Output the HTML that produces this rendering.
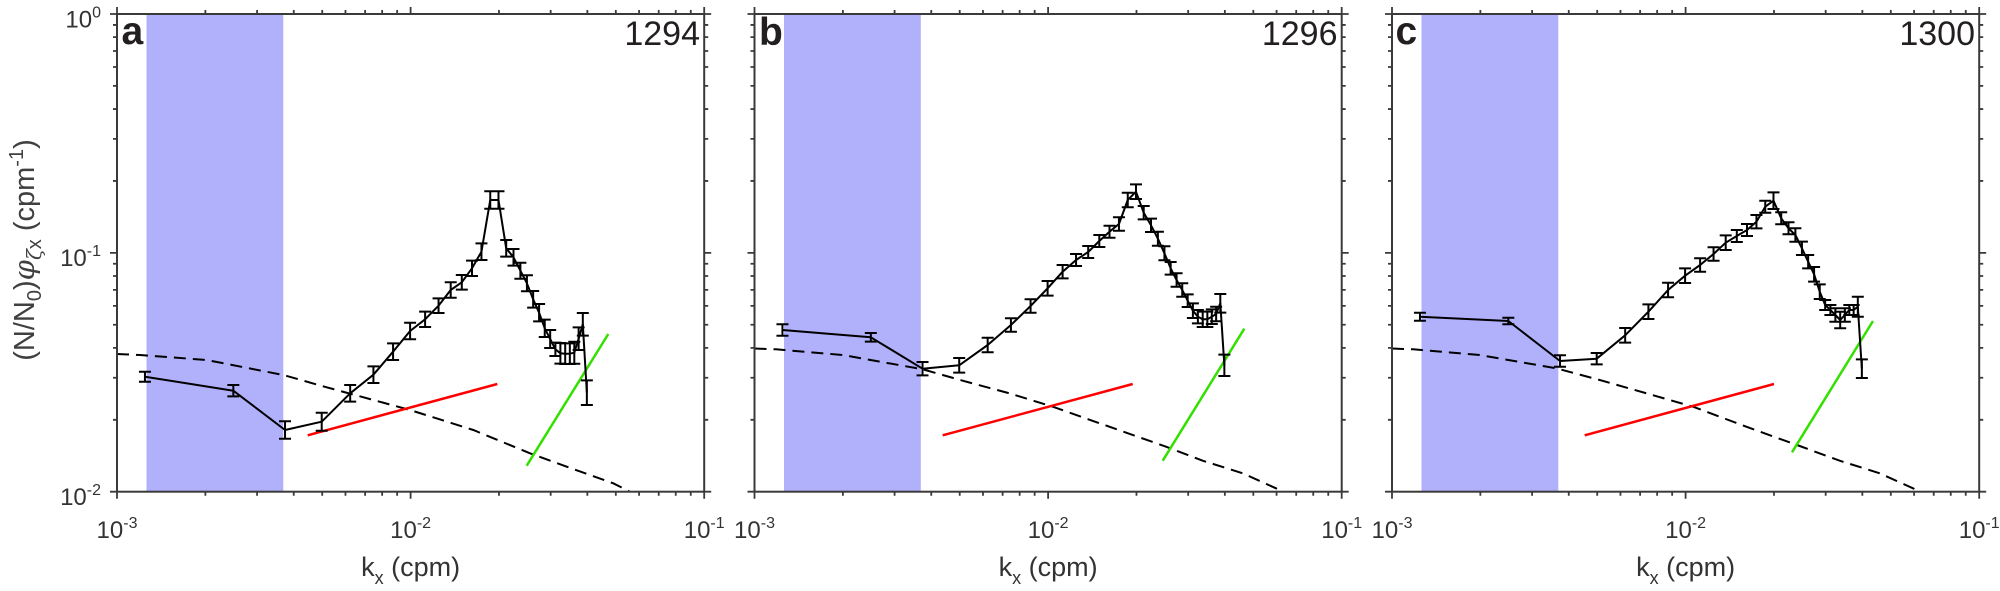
<!DOCTYPE html>
<html><head><meta charset="utf-8"><style>
html,body{margin:0;padding:0;background:#fff;}
svg{display:block;}
text{font-family:"Liberation Sans",Arial,sans-serif;}
</style></head><body>
<svg width="2000" height="591" viewBox="0 0 2000 591" xmlns="http://www.w3.org/2000/svg">
<defs>
<clipPath id="pc" clipPathUnits="userSpaceOnUse"><rect x="0" y="14" width="587.2" height="477.7"/></clipPath>
<g id="axes">
<rect x="0" y="14" width="587.2" height="477.7" fill="none" stroke="#3a3a3a" stroke-width="2"/>
<path fill="none" stroke="#3a3a3a" stroke-width="1.8" d="M88.38 491.7v4M140.08 491.7v4M176.76 491.7v4M205.22 491.7v4M228.47 491.7v4M248.12 491.7v4M265.15 491.7v4M280.16 491.7v4M381.98 491.7v4M433.68 491.7v4M470.36 491.7v4M498.82 491.7v4M522.07 491.7v4M541.72 491.7v4M558.75 491.7v4M573.76 491.7v4M0 491.7v7M293.6 491.7v7M587.2 491.7v7
M88.38 14v-4M140.08 14v-4M176.76 14v-4M205.22 14v-4M228.47 14v-4M248.12 14v-4M265.15 14v-4M280.16 14v-4M381.98 14v-4M433.68 14v-4M470.36 14v-4M498.82 14v-4M522.07 14v-4M541.72 14v-4M558.75 14v-4M573.76 14v-4M0 14v-7M293.6 14v-7M587.2 14v-7
M0 24.93h-4M0 37.15h-4M0 51h-4M0 66.99h-4M0 85.9h-4M0 109.05h-4M0 138.89h-4M0 180.95h-4M0 263.78h-4M0 276h-4M0 289.85h-4M0 305.84h-4M0 324.75h-4M0 347.9h-4M0 377.74h-4M0 419.8h-4M0 14h-7M0 252.85h-7M0 491.7h-7
M587.2 24.93h4M587.2 37.15h4M587.2 51h4M587.2 66.99h4M587.2 85.9h4M587.2 109.05h4M587.2 138.89h4M587.2 180.95h4M587.2 263.78h4M587.2 276h4M587.2 289.85h4M587.2 305.84h4M587.2 324.75h4M587.2 347.9h4M587.2 377.74h4M587.2 419.8h4M587.2 14h7M587.2 252.85h7M587.2 491.7h7"/>
</g>
</defs>

<!-- Panel a -->
<g transform="translate(117,0)">
<rect x="29.5" y="14" width="136.8" height="477.7" fill="#b0b0fb"/>
<g clip-path="url(#pc)">
<polyline fill="none" stroke="#000" stroke-width="2" stroke-dasharray="12 7" points="0,354 23,355 89.7,360 166.3,375 209.7,387.3 256.3,400 293,410 356.3,430 413,453.3 449.7,466.7 496.3,483.3 509.7,490 514,492.5"/>
<line x1="190.7" y1="435.3" x2="380.3" y2="384" stroke="#ff0000" stroke-width="2.5"/>
<line x1="409.7" y1="465.7" x2="491.3" y2="334" stroke="#33e000" stroke-width="2.5"/>
<polyline fill="none" stroke="#000" stroke-width="2" stroke-linejoin="round" points="27.95,376.7 116.33,390.7 168.03,430 204.71,421.7 233.17,393.3 256.42,374.7 276.07,351.7 293.1,331 308.11,319.3 321.55,305.7 333.7,290 344.8,282.3 355,268.3 364.45,251.7 373.25,200 381.48,200 389.21,248.3 396.5,257.3 403.39,270.7 409.93,283.3 416.15,299.3 422.09,312.7 427.75,328.3 433.18,339 438.39,349.3 443.39,353.3 448.2,353.7 452.84,353.7 457.31,352.7 461.63,338.7 465.81,324.3 469.86,392.7"/>
<path fill="none" stroke="#000" stroke-width="2" d="M21.95 371.7h12m-6 0v10m-6 0h12M110.33 385h12m-6 0v11.4m-6 0h12M162.03 421.3h12m-6 0v17.4m-6 0h12M198.71 412.7h12m-6 0v18m-6 0h12M227.17 385h12m-6 0v16.6m-6 0h12M250.42 366.4h12m-6 0v16.6m-6 0h12M270.07 343.4h12m-6 0v16.6m-6 0h12M287.1 322.7h12m-6 0v16.6m-6 0h12M302.11 311.6h12m-6 0v15.4m-6 0h12M315.55 298.4h12m-6 0v14.6m-6 0h12M327.7 282.3h12m-6 0v15.4m-6 0h12M338.8 275h12m-6 0v14.6m-6 0h12M349 260.6h12m-6 0v15.4m-6 0h12M358.45 243.4h12m-6 0v16.6m-6 0h12M367.25 191.3h12m-6 0v17.4m-6 0h12M375.48 191.3h12m-6 0v17.4m-6 0h12M383.21 240h12m-6 0v16.6m-6 0h12M390.5 249h12m-6 0v16.6m-6 0h12M397.39 262.7h12m-6 0v16m-6 0h12M403.93 275.3h12m-6 0v16m-6 0h12M410.15 291h12m-6 0v16.6m-6 0h12M416.09 304h12m-6 0v17.4m-6 0h12M421.75 319.6h12m-6 0v17.4m-6 0h12M427.18 330h12m-6 0v18m-6 0h12M432.39 342.6h12m-6 0v13.4m-6 0h12M437.39 343h12m-6 0v20.6m-6 0h12M442.2 343.4h12m-6 0v20.6m-6 0h12M446.84 343.4h12m-6 0v20.6m-6 0h12M451.31 341.7h12m-6 0v22m-6 0h12M455.63 327.4h12m-6 0v22.6m-6 0h12M459.81 313h12m-6 0v22.6m-6 0h12M463.86 380.4h12m-6 0v24.6m-6 0h12"/>
</g>
<use href="#axes"/>
<text x="4.5" y="44" font-size="39" font-weight="bold" fill="#231f20">a</text>
<text x="583" y="45" font-size="34" text-anchor="end" fill="#231f20">1294</text>
<g font-size="24" fill="#333" text-anchor="middle">
<text x="0" y="538">10<tspan font-size="16" dy="-10">-3</tspan></text>
<text x="293.6" y="538">10<tspan font-size="16" dy="-10">-2</tspan></text>
<text x="587.2" y="538">10<tspan font-size="16" dy="-10">-1</tspan></text>
<text x="293.6" y="576" font-size="27">k<tspan font-size="18" dy="8">x</tspan><tspan dy="-8"> (cpm)</tspan></text>
</g>
<g font-size="24" fill="#333" text-anchor="end">
<text x="-16" y="27.5">10<tspan font-size="16" dy="-10">0</tspan></text>
<text x="-16" y="266">10<tspan font-size="16" dy="-10">-1</tspan></text>
<text x="-16" y="505">10<tspan font-size="16" dy="-10">-2</tspan></text>
</g>
</g>

<!-- Panel b -->
<g transform="translate(754.5,0)">
<rect x="29.5" y="14" width="136.8" height="477.7" fill="#b0b0fb"/>
<g clip-path="url(#pc)">
<polyline fill="none" stroke="#000" stroke-width="2" stroke-dasharray="12 7" points="0,348.5 21.5,349.3 88.2,355 168.2,369.3 208.2,380.7 254.8,393.3 298.2,406.7 354.8,426.7 411.5,446.7 448.2,460.7 488.2,473.3 521.5,488.3 530,493"/>
<line x1="188.2" y1="435.3" x2="378.2" y2="384" stroke="#ff0000" stroke-width="2.5"/>
<line x1="408.2" y1="460.7" x2="489.8" y2="328.7" stroke="#33e000" stroke-width="2.5"/>
<polyline fill="none" stroke="#000" stroke-width="2" stroke-linejoin="round" points="27.95,330 116.33,337.3 168.03,368.7 204.71,365.3 233.17,345 256.42,325 276.07,306 293.1,288.3 308.11,271.7 321.55,260 333.7,252 344.8,241 355,231.7 364.45,224 373.25,200 381.48,191.7 389.21,212.7 396.5,225.3 403.39,238.7 409.93,253.3 416.15,268.3 422.09,280 427.75,290 433.18,300.7 438.39,310.7 443.39,316.7 448.2,319.3 452.84,319.3 457.31,316.7 461.63,314 465.81,303.3 469.86,365.3"/>
<path fill="none" stroke="#000" stroke-width="2" d="M21.95 324.3h12m-6 0v11.4m-6 0h12M110.33 333h12m-6 0v8.6m-6 0h12M162.03 362h12m-6 0v13.4m-6 0h12M198.71 358h12m-6 0v14.6m-6 0h12M227.17 337.7h12m-6 0v14.6m-6 0h12M250.42 318.3h12m-6 0v13.4m-6 0h12M270.07 299.3h12m-6 0v13.4m-6 0h12M287.1 281h12m-6 0v14.6m-6 0h12M302.11 265h12m-6 0v13.4m-6 0h12M315.55 254h12m-6 0v12m-6 0h12M327.7 246h12m-6 0v12m-6 0h12M338.8 235h12m-6 0v12m-6 0h12M349 225.7h12m-6 0v12m-6 0h12M358.45 217.3h12m-6 0v13.4m-6 0h12M367.25 192.7h12m-6 0v14.6m-6 0h12M375.48 184.4h12m-6 0v14.6m-6 0h12M383.21 206h12m-6 0v13.4m-6 0h12M390.5 218.6h12m-6 0v13.4m-6 0h12M397.39 231.7h12m-6 0v14m-6 0h12M403.93 246.3h12m-6 0v14m-6 0h12M410.15 262h12m-6 0v12.6m-6 0h12M416.09 273.3h12m-6 0v13.4m-6 0h12M421.75 283.3h12m-6 0v13.4m-6 0h12M427.18 294.4h12m-6 0v12.6m-6 0h12M432.39 303.4h12m-6 0v14.6m-6 0h12M437.39 310h12m-6 0v13.4m-6 0h12M442.2 311.6h12m-6 0v15.4m-6 0h12M446.84 311.6h12m-6 0v15.4m-6 0h12M451.31 309.4h12m-6 0v14.6m-6 0h12M455.63 306.7h12m-6 0v14.6m-6 0h12M459.81 294h12m-6 0v18.6m-6 0h12M463.86 354.6h12m-6 0v21.4m-6 0h12"/>
</g>
<use href="#axes"/>
<text x="4.5" y="45" font-size="39" font-weight="bold" fill="#231f20">b</text>
<text x="583" y="45" font-size="34" text-anchor="end" fill="#231f20">1296</text>
<g font-size="24" fill="#333" text-anchor="middle">
<text x="0" y="538">10<tspan font-size="16" dy="-10">-3</tspan></text>
<text x="293.6" y="538">10<tspan font-size="16" dy="-10">-2</tspan></text>
<text x="587.2" y="538">10<tspan font-size="16" dy="-10">-1</tspan></text>
<text x="293.6" y="576" font-size="27">k<tspan font-size="18" dy="8">x</tspan><tspan dy="-8"> (cpm)</tspan></text>
</g>
</g>

<!-- Panel c -->
<g transform="translate(1392,0)">
<rect x="29.5" y="14" width="136.8" height="477.7" fill="#b0b0fb"/>
<g clip-path="url(#pc)">
<polyline fill="none" stroke="#000" stroke-width="2" stroke-dasharray="12 7" points="0,348.5 21,349.3 87.7,355 164.3,368.3 207.7,380 254.3,393.3 301,406.7 354.3,426.7 407.7,446 447.7,460.7 487.7,473.3 521,488.3 530,493"/>
<line x1="192.7" y1="435.3" x2="382" y2="384" stroke="#ff0000" stroke-width="2.5"/>
<line x1="400" y1="452.3" x2="481" y2="321" stroke="#33e000" stroke-width="2.5"/>
<polyline fill="none" stroke="#000" stroke-width="2" stroke-linejoin="round" points="27.95,316.7 116.33,321 168.03,361 204.71,358.7 233.17,335.3 256.42,311.7 276.07,290 293.1,275.7 308.11,265 321.55,254 333.7,242.7 344.8,236 355,230 364.45,221.7 373.25,206.7 381.48,200.7 389.21,218.3 396.5,228.3 403.39,235 409.93,248.3 416.15,261.7 422.09,274.3 427.75,291.7 433.18,305 438.39,310 443.39,315 448.2,320 452.84,315 457.31,310 461.63,310 465.81,306.7 469.86,368.7"/>
<path fill="none" stroke="#000" stroke-width="2" d="M21.95 312.7h12m-6 0v8m-6 0h12M110.33 317.7h12m-6 0v6.6m-6 0h12M162.03 355.3h12m-6 0v11.4m-6 0h12M198.71 353h12m-6 0v11.4m-6 0h12M227.17 328h12m-6 0v14.6m-6 0h12M250.42 304.4h12m-6 0v14.6m-6 0h12M270.07 282.7h12m-6 0v14.6m-6 0h12M287.1 268.4h12m-6 0v14.6m-6 0h12M302.11 258.3h12m-6 0v13.4m-6 0h12M315.55 247.3h12m-6 0v13.4m-6 0h12M327.7 235.4h12m-6 0v14.6m-6 0h12M338.8 230h12m-6 0v12m-6 0h12M349 224h12m-6 0v12m-6 0h12M358.45 215h12m-6 0v13.4m-6 0h12M367.25 200.7h12m-6 0v12m-6 0h12M375.48 192.4h12m-6 0v16.6m-6 0h12M383.21 212.3h12m-6 0v12m-6 0h12M390.5 222.3h12m-6 0v12m-6 0h12M397.39 228.3h12m-6 0v13.4m-6 0h12M403.93 241.6h12m-6 0v13.4m-6 0h12M410.15 255h12m-6 0v13.4m-6 0h12M416.09 267h12m-6 0v14.6m-6 0h12M421.75 284.4h12m-6 0v14.6m-6 0h12M427.18 300h12m-6 0v10m-6 0h12M432.39 305h12m-6 0v10m-6 0h12M437.39 308.3h12m-6 0v13.4m-6 0h12M442.2 311.7h12m-6 0v16.6m-6 0h12M446.84 308.3h12m-6 0v13.4m-6 0h12M451.31 305h12m-6 0v10m-6 0h12M455.63 305h12m-6 0v10m-6 0h12M459.81 296.7h12m-6 0v20m-6 0h12M463.86 359.4h12m-6 0v18.6m-6 0h12"/>
</g>
<use href="#axes"/>
<text x="3.5" y="44" font-size="39" font-weight="bold" fill="#231f20">c</text>
<text x="583" y="45" font-size="34" text-anchor="end" fill="#231f20">1300</text>
<g font-size="24" fill="#333" text-anchor="middle">
<text x="0" y="538">10<tspan font-size="16" dy="-10">-3</tspan></text>
<text x="293.6" y="538">10<tspan font-size="16" dy="-10">-2</tspan></text>
<text x="587.2" y="538">10<tspan font-size="16" dy="-10">-1</tspan></text>
<text x="293.6" y="576" font-size="27">k<tspan font-size="18" dy="8">x</tspan><tspan dy="-8"> (cpm)</tspan></text>
</g>
</g>

<!-- Y axis label -->
<text transform="translate(34,250) rotate(-90)" text-anchor="middle" font-size="29" fill="#404040">(N/N<tspan font-size="20" dy="7">0</tspan><tspan dy="-7">)</tspan><tspan font-style="italic" font-family="'DejaVu Serif', 'Liberation Serif', serif">φ</tspan><tspan font-size="20" dy="7" font-style="italic" font-family="'DejaVu Serif', 'Liberation Serif', serif">ζ</tspan><tspan font-size="20">x</tspan><tspan dy="-7"> (cpm</tspan><tspan font-size="20" dy="-11">-1</tspan><tspan dy="11">)</tspan></text>
</svg>
</body></html>
